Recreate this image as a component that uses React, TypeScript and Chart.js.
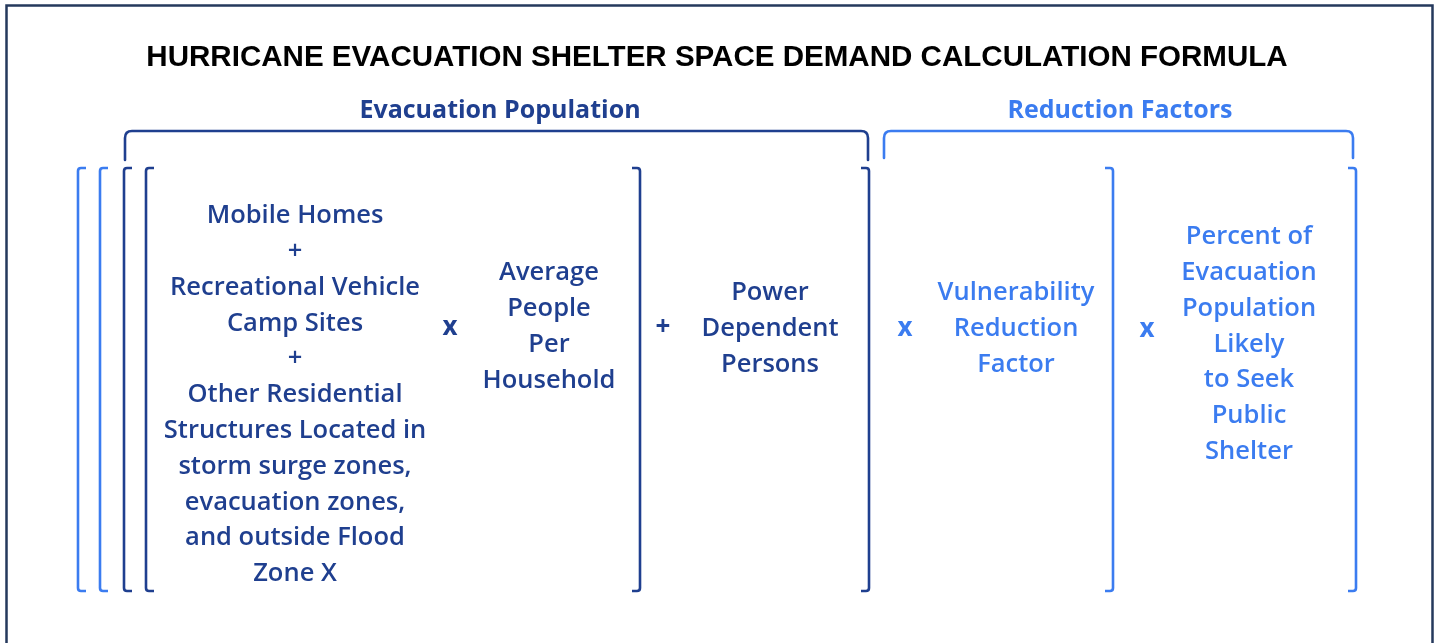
import React, { useEffect, useRef } from "react";
import { Chart, registerables } from "chart.js";

Chart.register(...registerables);

// ---- content ----
const titleText = "HURRICANE EVACUATION SHELTER SPACE DEMAND CALCULATION FORMULA";
const groupLabels = ["Evacuation Population", "Reduction Factors"];
const col1Lines = [
  "Mobile Homes",
  "+",
  "Recreational Vehicle",
  "Camp Sites",
  "+",
  "Other Residential",
  "Structures Located in",
  "storm surge zones,",
  "evacuation zones,",
  "and outside Flood",
  "Zone X",
];
const col2Lines = ["Average", "People", "Per", "Household"];
const col3Lines = ["Power", "Dependent", "Persons"];
const col4Lines = ["Vulnerability", "Reduction", "Factor"];
const col5Lines = ["Percent of", "Evacuation", "Population", "Likely", "to Seek", "Public", "Shelter"];
const operators = ["x", "+", "x", "x"];

// ---- layout & style ----
const W = 1438;
const H = 643;
const DARK = "#1f3f8f";
const LIGHT = "#3b7cf0";
const FRAME = "#25395c";
const BODY_FONT = "'Open Sans', sans-serif";
const LINE_H = 35.8;

const columnLayout = [
  { lines: col1Lines, x: 295, y0: 216, color: DARK },
  { lines: col2Lines, x: 549, y0: 273, color: DARK },
  { lines: col3Lines, x: 770, y0: 293, color: DARK },
  { lines: col4Lines, x: 1016, y0: 293, color: LIGHT },
  { lines: col5Lines, x: 1249, y0: 237, color: LIGHT },
];
const operatorLayout = [
  { x: 450, y: 328, color: DARK },
  { x: 663, y: 328, color: DARK },
  { x: 905, y: 329, color: LIGHT },
  { x: 1147, y: 330, color: LIGHT },
];
const groupLayout = [
  { cx: 500, y: 111, x1: 125, x2: 868, yBar: 131, yEnd: 160, color: DARK },
  { cx: 1120, y: 111, x1: 884, x2: 1353, yBar: 131, yEnd: 158, color: LIGHT },
];
const BR_TOP = 168;
const BR_BOT = 591;
const leftBrackets = [
  { x: 78, color: LIGHT },
  { x: 100, color: LIGHT },
  { x: 124, color: DARK },
  { x: 146, color: DARK },
];
const rightBrackets = [
  { x: 640, color: DARK },
  { x: 869, color: DARK },
  { x: 1113, color: LIGHT },
  { x: 1356, color: LIGHT },
];

const diagramPlugin = {
  id: "formulaDiagram",
  afterDraw(chart: any) {
    const ctx: CanvasRenderingContext2D = chart.ctx;
    const xs = chart.scales.x;
    const ys = chart.scales.y;
    const px = (v: number) => xs.getPixelForValue(v);
    const py = (v: number) => ys.getPixelForValue(v);

    ctx.save();
    // frame
    ctx.strokeStyle = FRAME;
    ctx.lineWidth = 2.5;
    ctx.beginPath();
    ctx.moveTo(px(6.5), py(700));
    ctx.lineTo(px(6.5), py(5.5));
    ctx.lineTo(px(1432.5), py(5.5));
    ctx.lineTo(px(1432.5), py(700));
    ctx.stroke();

    // title
    ctx.fillStyle = "#000";
    ctx.textAlign = "center";
    ctx.textBaseline = "middle";
    ctx.font = "bold 26px 'Liberation Sans', Arial, sans-serif";
    const tw = ctx.measureText(titleText).width;
    const target = 1142;
    const fs = 26 * target / tw;
    ctx.font = `bold ${fs.toFixed(2)}px 'Liberation Sans', Arial, sans-serif`;
    ctx.fillText(titleText, px(717), py(58));

    // group labels + braces
    groupLayout.forEach((g, i) => {
      ctx.fillStyle = g.color;
      ctx.font = `bold 25px ${BODY_FONT}`;
      ctx.fillText(groupLabels[i], px(g.cx), py(g.y));
      ctx.strokeStyle = g.color;
      ctx.lineWidth = 2.6;
      ctx.lineCap = "round";
      const r = 7;
      ctx.beginPath();
      ctx.moveTo(px(g.x1), py(g.yEnd));
      ctx.lineTo(px(g.x1), py(g.yBar + r));
      ctx.quadraticCurveTo(px(g.x1), py(g.yBar), px(g.x1 + r), py(g.yBar));
      ctx.lineTo(px(g.x2 - r), py(g.yBar));
      ctx.quadraticCurveTo(px(g.x2), py(g.yBar), px(g.x2), py(g.yBar + r));
      ctx.lineTo(px(g.x2), py(g.yEnd));
      ctx.stroke();
    });

    // brackets
    const hook = 8;
    const r = 3;
    const drawBracket = (x: number, color: string, dir: number) => {
      ctx.strokeStyle = color;
      ctx.lineWidth = 2.6;
      ctx.lineCap = "butt";
      ctx.beginPath();
      ctx.moveTo(px(x + dir * hook), py(BR_TOP));
      ctx.lineTo(px(x + dir * r), py(BR_TOP));
      ctx.quadraticCurveTo(px(x), py(BR_TOP), px(x), py(BR_TOP + r));
      ctx.lineTo(px(x), py(BR_BOT - r));
      ctx.quadraticCurveTo(px(x), py(BR_BOT), px(x + dir * r), py(BR_BOT));
      ctx.lineTo(px(x + dir * hook), py(BR_BOT));
      ctx.stroke();
    };
    leftBrackets.forEach((b) => drawBracket(b.x, b.color, 1));
    rightBrackets.forEach((b) => drawBracket(b.x, b.color, -1));

    // columns
    ctx.font = `600 25.5px ${BODY_FONT}`;
    columnLayout.forEach((c) => {
      ctx.fillStyle = c.color;
      c.lines.forEach((line, k) => {
        ctx.fillText(line, px(c.x), py(c.y0 + k * LINE_H));
      });
    });

    // operators
    ctx.font = `bold 26px ${BODY_FONT}`;
    operatorLayout.forEach((o, i) => {
      ctx.fillStyle = o.color;
      ctx.fillText(operators[i], px(o.x), py(o.y));
    });
    ctx.restore();
  },
};

export default function App() {
  const ref = useRef<HTMLCanvasElement | null>(null);
  useEffect(() => {
    document.body.style.margin = "0";
    const canvas = ref.current!;
    const chart = new Chart(canvas, {
      type: "scatter",
      data: { datasets: [{ data: [], pointRadius: 0 }] },
      options: {
        animation: false,
        responsive: false,
        maintainAspectRatio: false,
        devicePixelRatio: 1,
        layout: { padding: 0 },
        scales: {
          x: { type: "linear", min: 0, max: W, display: false },
          y: { type: "linear", min: 0, max: H, reverse: true, display: false },
        },
        plugins: { legend: { display: false }, tooltip: { enabled: false } },
      },
      plugins: [diagramPlugin],
    });
    return () => chart.destroy();
  }, []);
  return (
    <div style={{ position: "fixed", left: 0, top: 0, width: W, height: H, background: "#fff" }}>
      <canvas ref={ref} width={W} height={H} style={{ width: W, height: H, display: "block" }} />
    </div>
  );
}
